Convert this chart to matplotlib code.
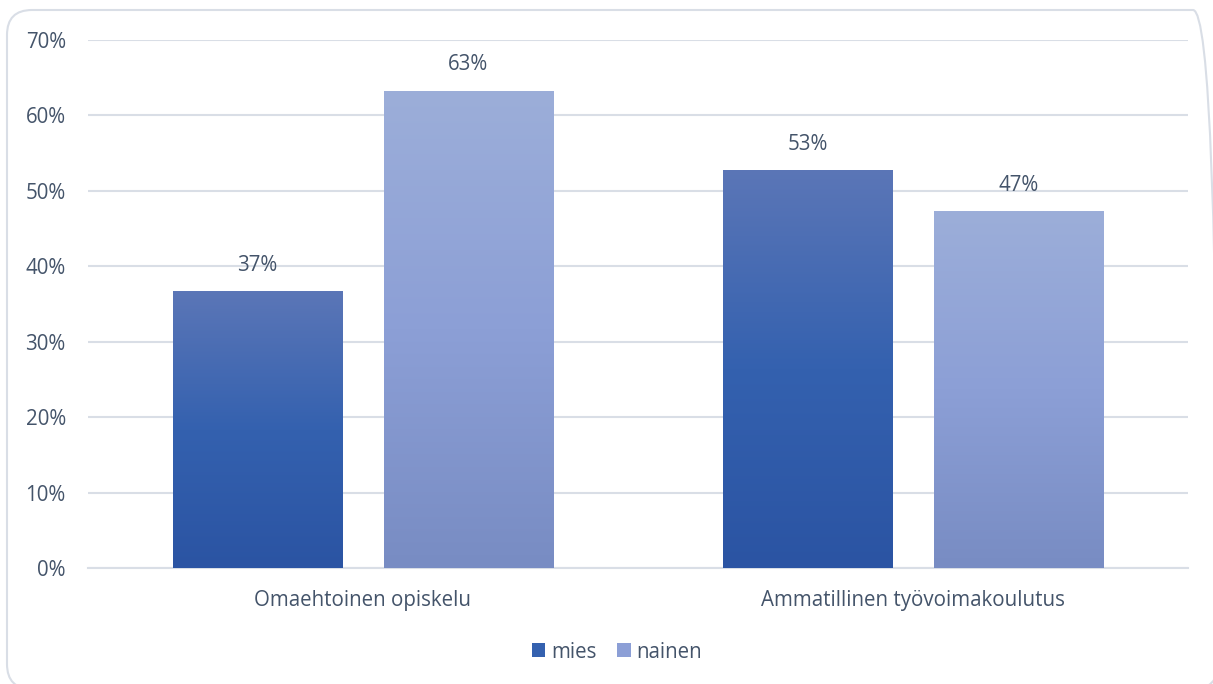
import numpy as np
import matplotlib.pyplot as plt
from matplotlib.patches import FancyBboxPatch, Patch
from matplotlib.colors import LinearSegmentedColormap

### DATA ###
categories = ['Omaehtoinen opiskelu', 'Ammatillinen työvoimakoulutus']
series_names = ['mies', 'nainen']
mies = [36.7, 52.8]
nainen = [63.3, 47.3]
yticks = [0, 10, 20, 30, 40, 50, 60, 70]

### STYLE ###
plt.rcParams['font.family'] = ['Open Sans', 'DejaVu Sans']
text_color = '#44546A'
grid_color = '#D9DEE6'
fs = 14.8
# gradient (bottom, middle, top) per series
grad_mies = ['#2B54A3', '#3461AF', '#5B76B7']
grad_nainen = ['#788CC3', '#8C9FD6', '#9CAED9']

fig = plt.figure(figsize=(12.13, 6.84), dpi=100)
ax = fig.add_axes([88 / 1213, 1 - 568 / 684, 1100 / 1213, 528 / 684])

# outer rounded frame (inches)
frame = FancyBboxPatch((0.07, -0.05), 12.11, 6.79,
                       boxstyle='round,pad=0,rounding_size=0.25',
                       transform=fig.dpi_scale_trans, facecolor='none',
                       edgecolor=grid_color, linewidth=1.5, clip_on=False)
fig.patches.append(frame)

x = np.arange(len(categories))
width = 0.309
offset = width / 2 + 0.0373


def gradient_bars(xpos, values, colors):
    cmap = LinearSegmentedColormap.from_list('g', colors)
    bars = ax.bar(xpos, values, width, color='none', edgecolor='none', zorder=3)
    for bar in bars:
        x0, y0 = bar.get_x(), bar.get_y()
        w, h = bar.get_width(), bar.get_height()
        grad = np.linspace(0, 1, 256).reshape(-1, 1)
        im = ax.imshow(grad, cmap=cmap, origin='lower', aspect='auto',
                       extent=[x0, x0 + w, y0, y0 + h], zorder=3)
        im.set_clip_path(bar)
        ax.text(x0 + w / 2, h + 2.0, f'{round(h):.0f}%', ha='center', va='bottom',
                fontsize=fs, color=text_color)
    return bars


gradient_bars(x - offset, mies, grad_mies)
gradient_bars(x + offset, nainen, grad_nainen)

ax.set_xlim(-0.5, 1.5)
ax.set_ylim(0, 70)
ax.set_yticks(yticks)
ax.set_yticklabels([f'{t}%' for t in yticks])
ax.set_xticks(x)
ax.set_xticklabels(categories)
ax.tick_params(length=0, labelsize=fs, labelcolor=text_color)
ax.tick_params(axis='y', pad=16)
ax.tick_params(axis='x', pad=16)
ax.grid(axis='y', color=grid_color, linewidth=1.5, zorder=0)
ax.set_axisbelow(True)
for s in ['top', 'right', 'left']:
    ax.spines[s].set_visible(False)
ax.spines['bottom'].set_color(grid_color)
ax.spines['bottom'].set_linewidth(1.5)

handles = [Patch(facecolor=grad_mies[1], edgecolor='none'),
           Patch(facecolor=grad_nainen[1], edgecolor='none')]
fig.legend(handles, series_names, loc='center', bbox_to_anchor=(617 / 1213, 1 - 652 / 684),
           ncol=2, frameon=False, fontsize=fs, labelcolor=text_color,
           handlelength=0.65, handleheight=0.65, handletextpad=0.3, columnspacing=1.0)

plt.savefig('out.png', dpi=100)
